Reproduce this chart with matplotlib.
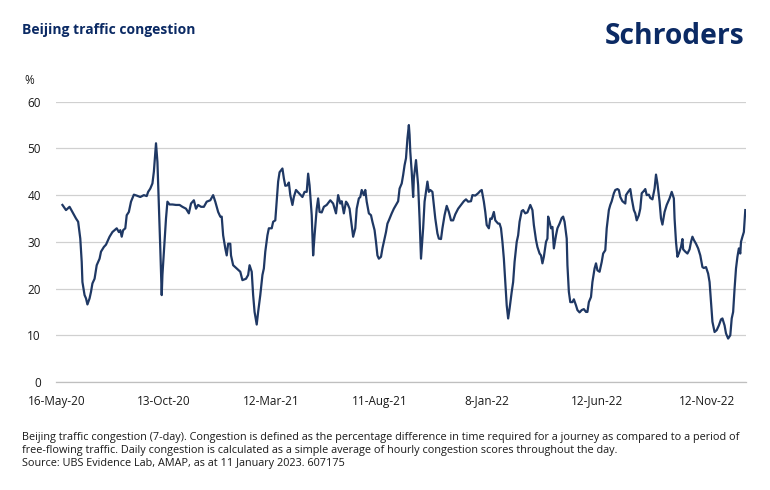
import matplotlib
matplotlib.use("Agg")
import matplotlib.pyplot as plt
import pandas as pd

plt.rcParams['font.family'] = ['Open Sans', 'DejaVu Sans']

start_date = "2020-05-16"
# days since 16-May-2020
day_offset = [
    8, 13, 18, 22, 27, 30, 33, 35, 36, 39, 41, 43, 46, 48, 50, 53, 56, 60, 62, 66,
    69, 74, 78, 81, 84, 87, 89, 91, 93, 96, 98, 101, 104, 108, 112, 117, 122, 126,
    128, 131, 134, 136, 139, 141, 143, 145, 147, 148, 151, 153, 155, 158, 162, 167,
    172, 176, 181, 185, 188, 192, 195, 198, 202, 206, 210, 215, 219, 222, 226, 229,
    231, 233, 236, 238, 240, 243, 244, 247,
    252, 257, 260, 265, 268, 270, 273, 275, 277, 280, 282, 285, 288, 290, 292, 295,
    297, 301, 303, 306, 308, 310, 312, 316, 318, 320, 323, 325, 327, 330, 332, 335,
    338, 341, 344, 347, 350, 352, 354, 357, 359, 361, 364, 366, 368, 371,
    374, 378, 383, 387, 391, 394, 397, 399, 402, 405, 407, 410, 413, 415, 418, 420,
    423, 425, 427, 430, 432, 434, 437, 440, 442, 445, 447, 449, 451, 454, 456, 458,
    461, 463, 465, 469, 472, 475, 478, 480, 483, 485, 487, 489, 491, 493, 494,
    495, 497, 499, 500, 503, 506, 508, 510, 513, 515, 519, 521, 523, 526, 528, 530,
    533, 535, 538, 540, 543, 546, 549, 552, 555, 558, 562, 566, 570, 573, 576, 580,
    582, 586, 590, 593, 595, 598, 600, 602, 605, 607, 609, 612, 614, 618,
    620, 622, 624, 626, 628, 630, 632, 634, 637, 639, 641, 644, 646, 648, 651, 653,
    656, 659, 661, 663, 666, 668, 671, 673, 676, 678, 680, 682, 685, 687, 688, 690,
    692, 694, 696, 699, 701, 704, 707, 709, 711, 714, 715, 717, 719, 722, 724, 727,
    729, 732, 735, 738, 741,
    743, 745, 748, 750, 753, 755, 757, 760, 763, 765, 768, 770, 773, 775, 777, 780,
    782, 785, 787, 789, 792, 796, 797, 800, 803, 805, 808, 810, 812, 815, 817, 819,
    822, 824, 826, 829, 831, 834, 837, 839, 841, 844, 846, 848, 851, 854, 858, 861,
    864, 865, 867, 869, 871, 874, 876, 877, 880, 883, 886, 888, 890, 892, 895, 898,
    901, 904, 906, 909, 912, 914, 916, 918, 921, 924, 927, 930, 932, 935, 937, 940,
    943, 945, 947, 949, 951, 953, 955, 957, 958, 960, 962, 964,
]
congestion = [
    37.9, 36.8, 37.5, 36.4, 35.0, 34.3, 30.7, 25.7, 21.4, 18.6, 17.9, 16.6, 17.9, 19.3, 21.1, 22.1, 25.0, 26.4, 27.9, 28.9,
    29.4, 31.1, 32.1, 32.5, 32.9, 32.1, 32.5, 31.1, 32.5, 32.9, 35.7, 36.4, 38.6, 40.1, 39.9, 39.6, 40.0, 39.8,
    40.7, 41.4, 42.5, 45.0, 51.1, 47.1, 37.9, 28.6, 18.6, 22.9, 30.0, 35.0, 38.6, 38.0, 38.0, 37.9,
    37.9, 37.5, 37.1, 36.1, 38.2, 38.9, 37.1, 37.9, 37.5, 37.5, 38.6, 38.9, 40.0, 38.6, 36.4, 35.4,
    35.4, 31.4, 28.6, 27.1, 29.6, 29.6, 27.1, 25.0,
    24.3, 23.6, 21.8, 22.1, 22.9, 25.0, 23.6, 18.6, 15.0, 12.3, 15.0, 18.6, 22.9, 24.3, 27.9, 31.4,
    32.9, 32.9, 34.3, 34.6, 38.6, 42.9, 44.9, 45.7, 43.6, 42.0, 42.1, 42.7, 40.0, 37.9, 39.6, 41.1,
    40.6, 40.1, 39.6, 40.7, 40.7, 44.6, 42.1, 35.7, 27.1, 31.4, 37.1, 39.3, 36.4, 36.3,
    37.5, 37.9, 38.9, 38.2, 36.1, 40.0, 38.2, 38.7, 36.1, 38.6, 38.2, 37.1, 33.6, 31.1, 32.9, 37.1,
    39.3, 39.6, 41.1, 40.0, 41.1, 38.6, 36.1, 35.7, 34.3, 32.5, 30.0, 27.1, 26.4, 26.8, 28.6, 30.0,
    32.1, 33.9, 34.6, 36.1, 37.1, 37.9, 38.7, 41.4, 42.5, 44.3, 46.4, 47.9, 52.1, 55.0, 52.9,
    49.3, 45.0, 39.6, 43.6, 47.5, 42.1, 35.0, 26.4, 32.9, 38.6, 42.9, 40.7, 41.1, 40.7, 37.9, 35.0,
    31.8, 30.7, 30.6, 32.9, 35.7, 37.7, 36.4, 34.6, 34.6, 35.9, 37.1, 37.9, 38.7, 39.1, 38.6, 38.7,
    40.0, 39.9, 40.4, 40.9, 41.1, 38.6, 36.4, 33.6, 32.9, 35.0, 34.9, 36.4, 34.6, 33.9,
    33.9, 32.9, 30.0, 26.4, 21.4, 16.4, 13.6, 15.7, 19.3, 21.4, 25.7, 30.0, 31.4, 34.3, 36.6, 36.8,
    36.1, 36.3, 37.1, 37.9, 36.8, 33.6, 30.4, 28.9, 27.5, 27.1, 25.4, 26.8, 30.0, 30.7, 35.4, 34.3,
    32.9, 33.2, 28.6, 31.4, 32.9, 33.9, 35.1, 35.4, 34.3, 30.7, 25.0, 19.3, 17.1, 17.1, 17.7, 16.4,
    15.4, 14.9, 15.4, 15.6, 15.0,
    15.0, 17.1, 18.2, 21.4, 24.3, 25.4, 23.9, 23.6, 25.7, 27.5, 28.2, 32.9, 36.8, 37.9, 38.7, 40.4,
    41.1, 41.3, 41.1, 39.6, 38.7, 38.2, 40.0, 40.7, 41.3, 39.3, 36.8, 36.1, 34.6, 35.7, 37.1, 40.4,
    40.9, 41.3, 40.0, 40.1, 39.4, 39.1, 41.4, 44.4, 42.5, 38.6, 35.0, 33.7, 36.4, 37.9, 39.3, 40.7,
    39.3, 35.0, 30.0, 26.8, 27.5, 28.9, 30.6, 28.4, 27.9, 27.5, 28.4, 30.0, 31.1, 30.4, 29.6, 28.6,
    27.1, 24.6, 24.4, 24.6, 23.2, 21.4, 17.1, 12.9, 10.7, 11.1, 12.1, 13.4, 13.6, 12.1, 10.4, 9.3,
    10.0, 13.6, 15.0, 20.0, 24.3, 26.8, 28.6, 27.5, 30.0, 31.1, 32.1, 36.8,
]
tick_dates = ["2020-05-16", "2020-10-13", "2021-03-12", "2021-08-11",
              "2022-01-08", "2022-06-12", "2022-11-12"]
tick_labels = ["16-May-20", "13-Oct-20", "12-Mar-21", "11-Aug-21",
               "8-Jan-22", "12-Jun-22", "12-Nov-22"]
y_ticks = [0, 10, 20, 30, 40, 50, 60]

title = "Beijing traffic congestion"
footnote = ("Beijing traffic congestion (7-day). Congestion is defined as the percentage difference in time required for a journey as compared to a period of\n"
            "free-flowing traffic. Daily congestion is calculated as a simple average of hourly congestion scores throughout the day.\n"
            "Source: UBS Evidence Lab, AMAP, as at 11 January 2023. 607175")

navy = "#0b2a64"
line_col = "#1f3864"

dates = pd.to_datetime(start_date) + pd.to_timedelta(day_offset, unit="D")

fig = plt.figure(figsize=(7.7, 4.9), dpi=100)
ax = fig.add_axes([56/770, 1-382/490, (746-56)/770, (382-101.7)/490])

ax.plot(dates, congestion, color=line_col, linewidth=1.6, solid_joinstyle="round")

ax.set_ylim(0, 60)
ax.set_yticks(y_ticks)
ax.set_xlim(pd.to_datetime(start_date) - pd.Timedelta(days=1),
            pd.to_datetime(start_date) + pd.Timedelta(days=965))
ax.set_xticks(pd.to_datetime(tick_dates))
ax.set_xticklabels(tick_labels)

ax.grid(axis="y", color="#d0d0d0", linewidth=0.9)
ax.set_axisbelow(True)
for s in ["top", "right", "left"]:
    ax.spines[s].set_visible(False)
ax.spines["bottom"].set_color("#bfbfbf")
ax.spines["bottom"].set_linewidth(0.9)
ax.tick_params(axis="both", length=0, labelsize=8.5, colors="#1a1a1a")
ax.tick_params(axis="x", pad=9)
ax.tick_params(axis="y", pad=11)

fig.text(22/770, 1-30/490, title, fontsize=10, fontweight="bold", color=navy,
         va="center", ha="left")
fig.text(745/770, 1-37/490, "Schroders", fontsize=20.3, fontweight="bold", color=navy,
         va="center", ha="right")
fig.text(24/770, 1-80/490, "%", fontsize=8.5, color="#1a1a1a", va="center", ha="left")
fig.text(22/770, 1-432/490, footnote, fontsize=7.8, color="#1a1a1a", va="top", ha="left",
         linespacing=1.24)

fig.savefig("out.png", dpi=100)
